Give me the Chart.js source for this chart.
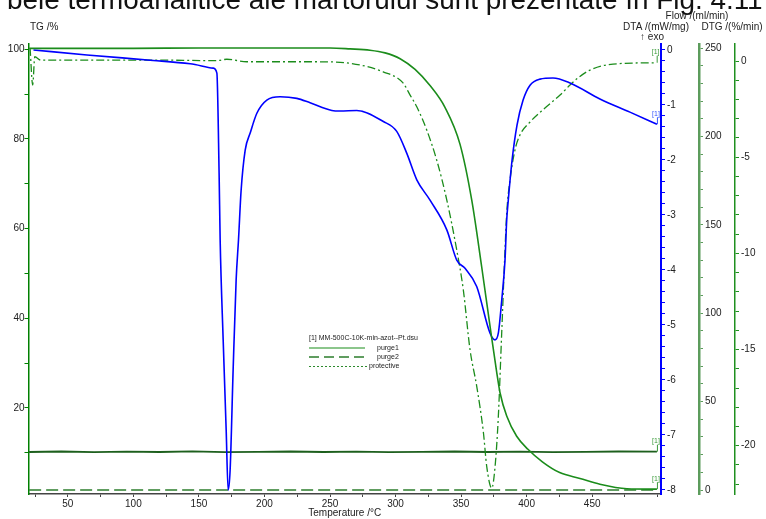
<!DOCTYPE html>
<html>
<head>
<meta charset="utf-8">
<script src="https://cdn.jsdelivr.net/npm/chart.js@4.4.1/dist/chart.umd.min.js"></script>
<style>
    html, body { margin: 0; padding: 0; background: #fff; }
    #wrap { width: 766px; height: 519px; }
</style>
</head>
<body>
<div id="wrap"><canvas id="myChart" width="766" height="519"></canvas></div>
<script>
// values, temperatures in °C

// TG /% (solid green, left axis)
const tgTemp = [20.6, 60, 100, 150, 200, 250, 265.3, 280.5, 292, 303.5, 314.9, 326.3, 337.8, 349.2, 358.1, 365.7, 372.1, 377.2, 379.7, 384.8, 392.4, 401, 412, 425.2, 440.7, 455.9, 476.5, 499.4];
const tgValues = [100.2, 100.2, 100.2, 100.3, 100.3, 100.3, 100.1, 99.8, 99.2, 97.9, 95.5, 91.9, 87.0, 78.8, 66.4, 51.5, 38.2, 27.9, 23.4, 18.2, 13.7, 10.8, 8.0, 5.6, 4.3, 3.0, 2.0, 1.9];

// DTA /(mW/mg) (blue)
const dtaTemp = [23.8, 64.6, 115.1, 143.3, 160.9, 163.7, 165.4, 166.2, 168.5, 170.8, 172.3, 173.8, 176.1, 178.4, 180.2, 182.2, 185.3, 189.1, 194.2, 201.8, 211.9, 224.7, 234.8, 251.4, 257.7, 270.4, 290.7, 300.9, 308.6, 316.2, 326.3, 339.1, 346.7, 353.0, 361.9, 372.1, 375.9, 378.4, 381.0, 383.5, 384.8, 386.0, 388.9, 392.7, 397.3, 402.6, 410.2, 420.1, 433.1, 455.9, 478.8, 499.4];
const dtaValues = [0.0, -0.09, -0.19, -0.25, -0.33, -0.42, -2.24, -3.45, -5.27, -6.91, -8.0, -7.64, -5.82, -4.18, -3.45, -2.55, -1.82, -1.51, -1.15, -0.91, -0.85, -0.88, -0.96, -1.10, -1.11, -1.10, -1.30, -1.48, -1.88, -2.36, -2.73, -3.27, -3.82, -3.97, -4.30, -5.15, -5.27, -5.15, -4.55, -3.82, -3.09, -2.73, -2.0, -1.36, -0.91, -0.64, -0.53, -0.51, -0.60, -0.89, -1.13, -1.35];

// DTG /(%/min) (dash-dot green)
const dtgTemp = [21.2, 23.2, 24.8, 29.3, 34.1, 112.8, 163.7, 171.3, 186.6, 239.9, 265.3, 290.5, 305.7, 311.1, 316.2, 323.8, 331.4, 339.1, 346.7, 351.7, 356.8, 361.9, 367.0, 369.6, 373.4, 375.9, 378.4, 381.0, 383.5, 384.8, 387.3, 391.1, 394.9, 402.6, 414.0, 425.5, 433.1, 439.2, 448.4, 465.9, 499.2];
const dtgValues = [0.68, -1.25, 0.22, 0.05, 0.05, 0.05, 0.02, 0.09, -0.04, -0.04, -0.12, -0.56, -1.14, -1.77, -2.38, -3.59, -5.15, -7.23, -9.83, -11.9, -15.0, -16.9, -19.3, -21.1, -22.2, -21.1, -18.5, -14.1, -9.83, -7.9, -6.19, -4.63, -3.85, -3.17, -2.44, -1.77, -1.25, -0.88, -0.47, -0.16, -0.09];

// Flow /(ml/min)
const flowTemp = [20.5, 45, 70, 95, 120, 145, 170, 195, 220, 245, 270, 295, 320, 345, 370, 395, 420, 445, 470, 499.4];
const protectiveFlow = [21.5, 21.8, 21.4, 21.7, 21.5, 21.9, 21.4, 21.6, 21.8, 21.5, 21.7, 21.4, 21.6, 21.8, 21.5, 21.7, 21.4, 21.6, 21.8, 21.7];
const purge2Flow = [0, 0, 0, 0, 0, 0, 0, 0, 0, 0, 0, 0, 0, 0, 0, 0, 0, 0, 0, 0];

const legendTitle = '[1] MM-500C-10K-min-azot--Pt.dsu';
const legendNames = ['purge1', 'purge2', 'protective'];
const pageText = 'bele termoanalitice ale martorului sunt prezentate în Fig. 4.11';

const FONT = '"Liberation Sans", Arial, sans-serif';
Chart.defaults.font.family = FONT;
Chart.defaults.color = '#222';

function pts(xs, ys) {
    return xs.map((x, i) => ({ x: x, y: ys[i] }));
}

function isMult(v, m) {
    const r = v / m;
    return Math.abs(r - Math.round(r)) < 1e-6;
}

function yAxis(position, min, max, step, major, color, width, borderWidth, pad) {
    return {
        type: 'linear',
        position: position,
        min: min,
        max: max,
        border: { display: true, color: color, width: borderWidth },
        grid: { drawOnChartArea: false, drawTicks: true, tickLength: 4, color: color },
        ticks: {
            stepSize: step,
            includeBounds: false,
            autoSkip: false,
            padding: pad,
            font: { size: 10 },
            color: '#222',
            callback: (v) => isMult(v, major) ? String(Math.round(v)) : ''
        },
        afterFit: (scale) => { scale.width = width; }
    };
}

// texts drawn around the plot: titles, markers, legend
const extras = {
    id: 'extras',
    afterDraw(chart) {
        const ctx = chart.ctx;
        const xs = chart.scales.x;
        ctx.save();

        // cut line of page text above the figure
        ctx.fillStyle = '#111';
        ctx.font = '24px ' + FONT;
        let w = ctx.measureText(pageText).width;
        const fs = 24 * 756 / w;
        ctx.font = fs + 'px ' + FONT;
        ctx.textBaseline = 'alphabetic';
        ctx.textAlign = 'left';
        ctx.fillText(pageText, 7, 9);

        // axis titles
        ctx.fillStyle = '#222';
        ctx.font = '10px ' + FONT;
        ctx.textBaseline = 'middle';
        ctx.textAlign = 'left';
        ctx.fillText('TG /%', 30, 27);
        ctx.textAlign = 'center';
        ctx.fillText('Flow /(ml/min)', 697, 16);
        ctx.fillText('DTA /(mW/mg)', 656, 27);
        ctx.fillText('DTG /(%/min)', 732, 27);
        ctx.fillText('\u2191 exo', 652, 37);

        // [1] markers at the curve ends
        const marks = [
            { ds: 0, axis: 'yTG', color: '#3a9a3a' },
            { ds: 1, axis: 'yDTA', color: '#3355ff' },
            { ds: 2, axis: 'yDTG', color: '#3a9a3a' },
            { ds: 3, axis: 'yFlow', color: '#3a9a3a' }
        ];
        ctx.font = '7px ' + FONT;
        ctx.textBaseline = 'bottom';
        ctx.textAlign = 'center';
        marks.forEach((m) => {
            const d = chart.data.datasets[m.ds].data;
            const last = d[d.length - 1];
            const px = xs.getPixelForValue(last.x);
            const py = chart.scales[m.axis].getPixelForValue(last.y);
            ctx.strokeStyle = m.color;
            ctx.lineWidth = 1;
            ctx.beginPath();
            ctx.moveTo(px + 0.5, py);
            ctx.lineTo(px + 0.5, py - 7);
            ctx.stroke();
            ctx.fillStyle = m.color;
            ctx.fillText('[1]', px - 1, py - 7);
        });

        // legend box inside the plot
        ctx.font = '7px ' + FONT;
        ctx.textBaseline = 'middle';
        ctx.textAlign = 'left';
        ctx.fillStyle = '#222';
        ctx.fillText(legendTitle, 309, 338);

        ctx.lineWidth = 2;
        ctx.strokeStyle = '#8cc68c';
        ctx.setLineDash([]);
        ctx.beginPath(); ctx.moveTo(309, 348); ctx.lineTo(365, 348); ctx.stroke();

        ctx.lineWidth = 1.3;
        ctx.strokeStyle = '#2d7d2d';
        ctx.setLineDash([10, 5]);
        ctx.beginPath(); ctx.moveTo(309, 357); ctx.lineTo(365, 357); ctx.stroke();

        ctx.lineWidth = 1;
        ctx.strokeStyle = '#2d8a2d';
        ctx.setLineDash([2, 2]);
        ctx.beginPath(); ctx.moveTo(309, 366.5); ctx.lineTo(367, 366.5); ctx.stroke();
        ctx.setLineDash([]);

        ctx.fillStyle = '#222';
        ctx.fillText(legendNames[0], 377, 348);
        ctx.fillText(legendNames[1], 377, 357);
        ctx.fillText(legendNames[2], 369, 366.5);

        ctx.restore();
    }
};

const data = {
    datasets: [
        {
            label: 'TG',
            data: pts(tgTemp, tgValues),
            yAxisID: 'yTG',
            borderColor: '#1b8c1b',
            borderWidth: 1.6,
            cubicInterpolationMode: 'monotone',
            pointRadius: 0
        },
        {
            label: 'DTA',
            data: pts(dtaTemp, dtaValues),
            yAxisID: 'yDTA',
            borderColor: '#0000ff',
            borderWidth: 1.6,
            cubicInterpolationMode: 'monotone',
            pointRadius: 0
        },
        {
            label: 'DTG',
            data: pts(dtgTemp, dtgValues),
            yAxisID: 'yDTG',
            borderColor: '#1b8c1b',
            borderWidth: 1.3,
            borderDash: [8, 3, 2, 3],
            cubicInterpolationMode: 'monotone',
            pointRadius: 0
        },
        {
            label: 'protective',
            data: pts(flowTemp, protectiveFlow),
            yAxisID: 'yFlow',
            borderColor: '#1d5f1d',
            borderWidth: 1.8,
            tension: 0,
            pointRadius: 0
        },
        {
            label: 'purge2',
            data: pts(flowTemp, purge2Flow),
            yAxisID: 'yFlow',
            borderColor: '#2d7d2d',
            borderWidth: 1.5,
            borderDash: [12, 5],
            tension: 0,
            pointRadius: 0
        }
    ]
};

const config = {
    type: 'line',
    data: data,
    options: {
        responsive: false,
        animation: false,
        layout: { padding: { top: 44, left: 0, right: 0, bottom: 0 } },
        plugins: {
            legend: { display: false },
            tooltip: { enabled: false },
            title: { display: false }
        },
        scales: {
            x: {
                type: 'linear',
                position: 'bottom',
                min: 20,
                max: 502.5,
                border: { display: true, color: '#444', width: 1.5 },
                grid: { drawOnChartArea: false, drawTicks: true, tickLength: 3, color: '#444' },
                ticks: {
                    stepSize: 25,
                    includeBounds: false,
                    autoSkip: false,
                    maxRotation: 0,
                    padding: 1,
                    font: { size: 10 },
                    color: '#222',
                    callback: (v) => (isMult(v, 50) && v < 490) ? String(v) : ''
                },
                title: {
                    display: true,
                    text: 'Temperature /°C',
                    font: { size: 10 },
                    color: '#222',
                    padding: { top: 0, bottom: 0 }
                },
                afterFit: (scale) => { scale.height = 25; }
            },
            yTG: yAxis('left', 0.82, 101.18, 10, 20, '#008000', 28.5, 1.5, 0),
            yDTA: yAxis('right', -8.073, 0.109, 0.2, 1, '#0000ff', 38, 2, 2),
            yFlow: yAxis('right', -2.26, 252.4, 10, 50, '#5c9c5c', 36, 2.5, 2),
            yDTG: yAxis('right', -22.51, 0.884, 1, 5, '#1f8f1f', 31, 1.5, 2)
        }
    },
    plugins: [extras]
};

new Chart(document.getElementById('myChart'), config);
</script>
</body>
</html>
